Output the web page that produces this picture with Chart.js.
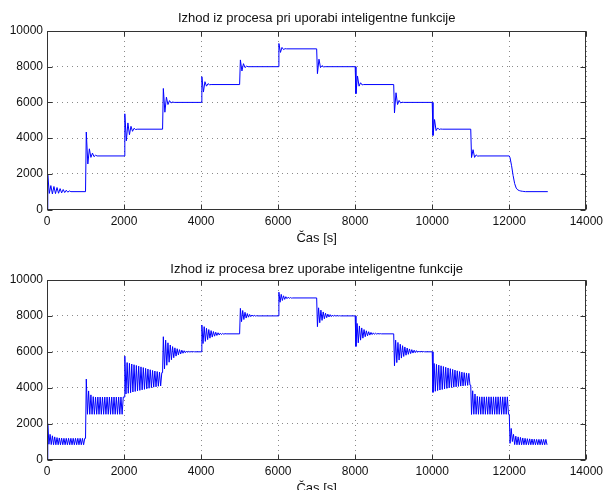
<!DOCTYPE html>
<html>
<head>
<meta charset="utf-8">
<title>Izhod iz procesa</title>
<script src="https://cdn.jsdelivr.net/npm/chart.js@4.4.1/dist/chart.umd.min.js"></script>
<style>
  html, body { margin: 0; padding: 0; background: #fff; overflow: hidden; }
  #wrap { position: relative; width: 608px; height: 490px; overflow: hidden; background: #fff; }
  canvas { position: absolute; left: 0; }
  #topChart { top: 0; }
  #bottomChart { top: 245px; }
</style>
</head>
<body>
<div id="wrap">
  <canvas id="topChart" width="608" height="250"></canvas>
  <canvas id="bottomChart" width="608" height="260"></canvas>
</div>
<script>
// when the set point changes [s]
const stepStarts = [0, 1000, 2000, 3000, 4000, 5000, 6000, 7000, 8000, 9000, 10000, 11000, 12000];
const endTime = 13000;

// turning points inside one step, seconds after the step
const smartOffsets = [20, 60, 100, 140, 180, 220, 260, 300, 340, 380, 420, 460, 500, 540, 580, 620];
const plainOffsets = [20, 50, 80, 110, 140, 170, 200, 230, 260, 290, 320, 350, 380, 410, 440, 470,
    500, 530, 560, 590, 620, 650, 680, 710, 740, 770, 800, 830, 860, 890, 920, 950, 980];

const xTicks = [0, 2000, 4000, 6000, 8000, 10000, 12000, 14000];
const yTicks = [0, 2000, 4000, 6000, 8000, 10000];

const topTitle = 'Izhod iz procesa pri uporabi inteligentne funkcije';
const bottomTitle = 'Izhod iz procesa brez uporabe inteligentne funkcije';
const xLabel = 'Čas [s]';

// output with the intelligent function (one list per step)
const smartOut = [
    [1950, 900, 1340, 870, 1290, 890, 1230, 910, 1170, 930, 1120, 950, 1080, 970, 1040, 1000],
    [4340, 2550, 3400, 2920, 3160, 2960, 3040, 3000],
    [5360, 3850, 4850, 4190, 4660, 4380, 4550, 4480, 4500],
    [6780, 5450, 6290, 5880, 6100, 5970, 6020, 6000],
    [7440, 6580, 7160, 6910, 7050, 6990, 7000],
    [8380, 7760, 8170, 7950, 8030, 8000],
    [9300, 8800, 9080, 8960, 9010, 9000],
    [7610, 8420, 7950, 8060, 7990, 8000],
    [6490, 7480, 6910, 7100, 6980, 7000],
    [5410, 6540, 5880, 6110, 5970, 6010, 6000],
    [4150, 5040, 4420, 4570, 4480, 4510, 4500],
    [2910, 3350, 2920, 3060, 2990, 3000],
    [2900, 2450, 1900, 1450, 1200, 1100, 1060, 1035, 1020, 1010, 1000]
];

// output without the intelligent function
const plainOut = [
    [2000, 850, 1400, 830, 1320, 820, 1260, 820, 1220, 820, 1200, 820, 1190, 820, 1180, 820, 1180,
        820, 1180, 820, 1180, 820, 1180, 820, 1180, 820, 1180, 820, 1180, 820, 1180, 820, 1180],
    [4480, 2520, 3820, 2520, 3600, 2520, 3500, 2520, 3480, 2520, 3480, 2520, 3480, 2520, 3480, 2520, 3480,
        2520, 3480, 2520, 3480, 2520, 3480, 2520, 3480, 2520, 3480, 2520, 3480, 2520, 3480, 2520, 3480],
    [5760, 3650, 5400, 3690, 5360, 3720, 5320, 3760, 5280, 3790, 5240, 3820, 5200, 3850, 5160, 3880, 5120,
        3910, 5080, 3940, 5040, 3970, 5000, 4000, 4960, 4030, 4930, 4050, 4900, 4080, 4870, 4100, 4840],
    [6840, 5050, 6650, 5250, 6500, 5420, 6380, 5560, 6290, 5670, 6220, 5760, 6170, 5830, 6120, 5880, 6090,
        5920, 6060, 5950, 6040, 5970, 6025, 5985, 6015, 5990, 6010, 6000],
    [7490, 6460, 7400, 6580, 7310, 6680, 7240, 6760, 7180, 6820, 7130, 6870, 7090, 6910, 7060, 6940, 7040,
        6960, 7025, 6980, 7010, 7000],
    [8420, 7680, 8300, 7800, 8200, 7880, 8130, 7930, 8080, 7960, 8050, 7980, 8030, 7990, 8010, 8000],
    [9320, 8760, 9200, 8860, 9120, 8920, 9070, 8960, 9040, 8980, 9020, 8990, 9000],
    [7400, 8450, 7620, 8320, 7750, 8220, 7840, 8150, 7900, 8100, 7940, 8070, 7960, 8050, 7975, 8035, 7985,
        8020, 7995, 8010, 8000],
    [6300, 7580, 6500, 7440, 6650, 7330, 6760, 7240, 6840, 7170, 6890, 7120, 6930, 7080, 6960, 7055, 6975,
        7035, 6985, 7020, 6995, 7010, 7000],
    [5220, 6650, 5400, 6520, 5540, 6420, 5650, 6340, 5740, 6270, 5810, 6210, 5860, 6160, 5900, 6120, 5930,
        6090, 5955, 6065, 5970, 6045, 5980, 6030, 5990, 6015, 6000],
    [3740, 5350, 3800, 5300, 3840, 5260, 3870, 5220, 3900, 5180, 3930, 5140, 3960, 5100, 3990, 5060, 4010,
        5020, 4030, 4980, 4050, 4940, 4070, 4900, 4090, 4870, 4100, 4840, 4120, 4820, 4130, 4800, 4140],
    [2510, 3830, 2520, 3650, 2520, 3520, 2520, 3490, 2520, 3490, 2520, 3490, 2520, 3490, 2520, 3490, 2520,
        3490, 2520, 3490, 2520, 3490, 2520, 3490, 2520, 3490, 2520, 3490, 2520, 3490, 2520, 3490, 2520],
    [900, 1730, 1000, 1400, 830, 1300, 820, 1260, 820, 1230, 820, 1200, 820, 1180, 820, 1160, 820,
        1150, 820, 1140, 820, 1130, 820, 1120, 820, 1120, 820, 1120, 820, 1120, 820, 1120, 820]
];

const fontFamily = '"Liberation Sans", Arial, Helvetica, sans-serif';

// turn the per-step lists into x/y points
function buildPoints(segments, offsets) {
    const pts = [{ x: 0, y: 0 }];
    segments.forEach((vals, i) => {
        const t0 = stepStarts[i];
        vals.forEach((v, k) => pts.push({ x: t0 + offsets[k], y: v }));
        const tEnd = i + 1 < stepStarts.length ? stepStarts[i + 1] : endTime;
        pts.push({ x: tEnd, y: vals[vals.length - 1] });
    });
    return pts;
}

// matlab style box with inward tick marks
const boxPlugin = {
    id: 'matlabBox',
    afterDraw(chart) {
        const { ctx, chartArea: a, scales } = chart;
        const l = Math.round(a.left) + 0.5, r = Math.round(a.right) - 0.5;
        const t = Math.round(a.top) + 0.5, b = Math.round(a.bottom) - 0.5;
        ctx.save();
        ctx.strokeStyle = '#333';
        ctx.lineWidth = 1;
        ctx.beginPath();
        xTicks.forEach(v => {
            const px = Math.round(scales.x.getPixelForValue(v)) + 0.5;
            ctx.moveTo(px, b); ctx.lineTo(px, b - 5);
            ctx.moveTo(px, t); ctx.lineTo(px, t + 5);
        });
        yTicks.forEach(v => {
            const py = Math.round(scales.y.getPixelForValue(v)) + 0.5;
            ctx.moveTo(l, py); ctx.lineTo(l + 5, py);
            ctx.moveTo(r, py); ctx.lineTo(r - 5, py);
        });
        ctx.stroke();
        ctx.strokeRect(l, t, r - l, b - t);
        ctx.restore();
    }
};

function makeChart(id, title, segments, offsets, lay) {
    return new Chart(document.getElementById(id), {
        type: 'line',
        data: {
            datasets: [{
                data: buildPoints(segments, offsets),
                borderColor: '#0000ff',
                borderWidth: 1,
                pointRadius: 0,
                fill: false,
                tension: 0
            }]
        },
        options: {
            responsive: false,
            animation: false,
            events: [],
            layout: { padding: { left: 0, right: 17, top: 0, bottom: 0 } },
            plugins: {
                legend: { display: false },
                tooltip: { enabled: false },
                title: {
                    display: true,
                    text: title,
                    fullSize: false,
                    color: '#111',
                    font: { family: fontFamily, size: 13, weight: 'normal' },
                    padding: { top: lay.titleTop, bottom: lay.titleBottom }
                }
            },
            scales: {
                x: {
                    type: 'linear',
                    min: 0,
                    max: 14000,
                    afterBuildTicks: s => { s.ticks = xTicks.map(v => ({ value: v })); },
                    afterFit: s => { s.height = lay.axisHeight; },
                    ticks: {
                        padding: 5, maxRotation: 0, autoSkip: false, color: '#111',
                        font: { family: fontFamily, size: 12 },
                        callback: v => String(v)
                    },
                    grid: { color: '#8a8a8a', lineWidth: 1, drawTicks: false },
                    border: { display: false, dash: [1, 4] },
                    title: {
                        display: true, text: xLabel, color: '#111',
                        font: { family: fontFamily, size: 13 },
                        padding: { top: 0, bottom: lay.xTitleBottom }
                    }
                },
                y: {
                    min: 0,
                    max: 10000,
                    afterBuildTicks: s => { s.ticks = yTicks.map(v => ({ value: v })); },
                    afterFit: s => { s.width = 47; },
                    ticks: {
                        padding: 4, color: '#111',
                        font: { family: fontFamily, size: 12 },
                        callback: v => String(v)
                    },
                    grid: { color: '#8a8a8a', lineWidth: 1, drawTicks: false },
                    border: { display: false, dash: [1, 4] }
                }
            }
        },
        plugins: [boxPlugin]
    });
}

makeChart('topChart', topTitle, smartOut, smartOffsets,
    { titleTop: 10.5, titleBottom: 4.9, axisHeight: 40.5, xTitleBottom: 4.2 });
makeChart('bottomChart', bottomTitle, plainOut, plainOffsets,
    { titleTop: 16.5, titleBottom: 2.9, axisHeight: 45.5, xTitleBottom: 9.2 });
</script>
</body>
</html>
